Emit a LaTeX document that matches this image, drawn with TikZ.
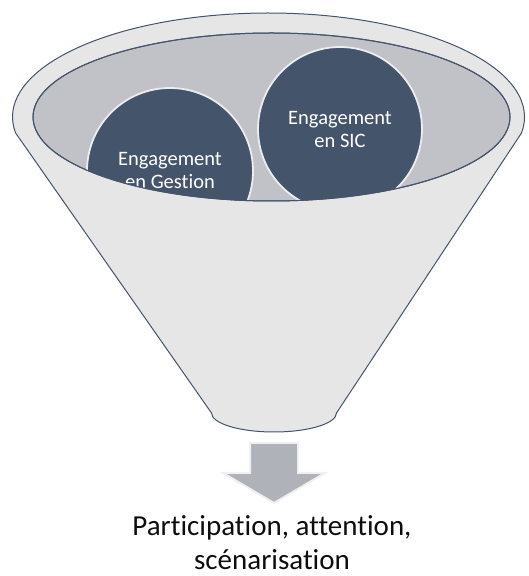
\documentclass[tikz,border=0pt]{standalone}
\usepackage{fontspec}
\setmainfont{Carlito}[Ligatures=NoCommon]
\definecolor{slate}{HTML}{44546A}
\definecolor{funnelfill}{HTML}{E6E6E6}
\definecolor{innerfill}{HTML}{C0C2C7}
\definecolor{ballrim}{HTML}{EDEDED}
\definecolor{arrowfill}{HTML}{B0B2B9}
\definecolor{arrowrim}{HTML}{F0F0F0}
\begin{document}
\begin{tikzpicture}[x=1pt,y=1pt,
    funnelline/.style={draw=slate,line width=1pt},
    ball/.style={circle,draw=ballrim,line width=1.8pt,fill=slate,text=white,
      inner sep=0pt,align=center,font=\fontsize{20.5}{23}\selectfont}]
  \useasboundingbox (0,0) rectangle (529,576);
  % funnel body
  \draw[funnelline,fill=funnelfill]
    (15.6,443) arc[start angle=188.85,end angle=-8.85,x radius=256,y radius=104]
    -- (336.5,163) arc[start angle=0,end angle=-180,x radius=62.5,y radius=19]
    -- cycle;
  \draw[funnelline,fill=innerfill] (271.5,459) ellipse[x radius=238.5,y radius=84];
  \begin{scope}
    \clip (271.5,459) ellipse[x radius=238.5,y radius=84];
    \node[ball,minimum size=166pt] (gestion) at (170,405) {Engagement\\en Gestion};
    \node[ball,minimum size=164pt] (sic) at (340,447) {Engagement\\en SIC};
  \end{scope}
  \draw[funnelline] (271.5,459) ellipse[x radius=238.5,y radius=84];
  % arrow and result
  \draw[fill=arrowfill,draw=arrowrim,line width=2pt,line join=miter]
    (250,133) -- (298,133) -- (298,103) -- (325,103) -- (274,73)
    -- (223,103) -- (250,103) -- cycle;
  \node[font=\fontsize{29}{34}\selectfont,align=center,text=black!95] (outcome)
    at (272,33) {Participation, attention,\\scénarisation};
\end{tikzpicture}
\end{document}
